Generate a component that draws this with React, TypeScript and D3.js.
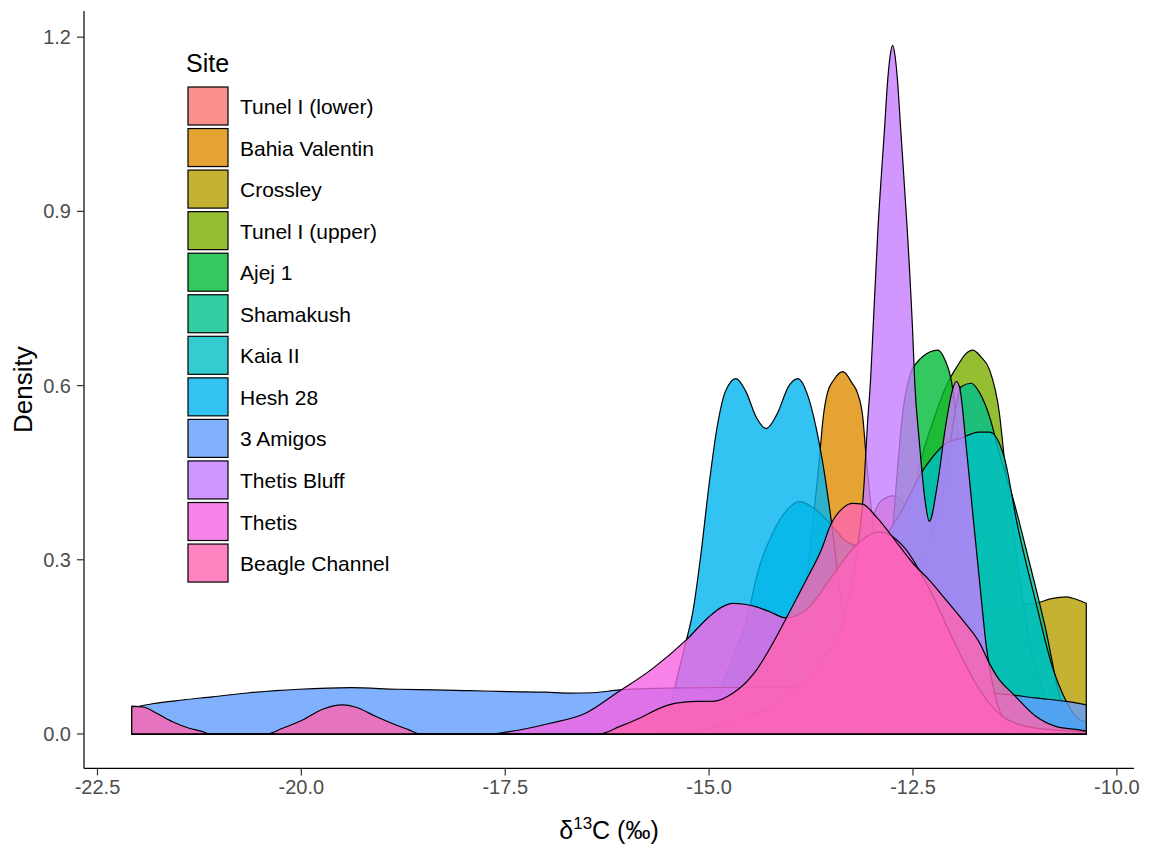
import React from "react";
import * as d3 from "d3";

type Pt = [number, number];

// sites in drawing order (first is drawn underneath)
const sites = [
  "Tunel I (lower)", "Bahia Valentin", "Crossley", "Tunel I (upper)", "Ajej 1", "Shamakush",
  "Kaia II", "Hesh 28", "3 Amigos", "Thetis Bluff", "Thetis", "Beagle Channel",
];
const siteColors = [
  "#F8766D", "#DE8C00", "#B79F00", "#7CAE00", "#00BA38", "#00C08B",
  "#00BFC4", "#00B4F0", "#619CFF", "#C77CFF", "#F564E3", "#FF64B0",
];

const X_MIN = -22.08;
const X_MAX = -10.375;

// density curves: [d13C, density]
const tunelLower: Pt[] = [[-22.08, 0], [-14.0, 0], [-13.7, 0.05], [-13.4, 0.17], [-13.1, 0.33], [-12.9, 0.4], [-12.74, 0.41], [-12.55, 0.38], [-12.4, 0.3], [-12.2, 0.2], [-12.0, 0.13], [-11.8, 0.085], [-11.56, 0.05], [-11.2, 0.015], [-10.8, 0.003], [-10.375, 0]];
const bahiaValentin: Pt[] = [[-22.08, 0], [-14.5, 0], [-14.2, 0.02], [-13.97, 0.1], [-13.82, 0.25], [-13.7, 0.4], [-13.65, 0.47], [-13.6, 0.546], [-13.55, 0.587], [-13.47, 0.61], [-13.36, 0.624], [-13.25, 0.605], [-13.18, 0.587], [-13.116, 0.546], [-13.07, 0.47], [-13.02, 0.4], [-12.9, 0.25], [-12.75, 0.1], [-12.5, 0.02], [-12.2, 0], [-10.375, 0]];
const crossley: Pt[] = [[-22.08, 0], [-12.6, 0], [-12.2, 0.08], [-11.8, 0.2], [-11.4, 0.22], [-11.0, 0.225], [-10.8, 0.233], [-10.62, 0.236], [-10.5, 0.232], [-10.375, 0.225]];
const tunelUpper: Pt[] = [[-22.08, 0], [-14.0, 0], [-13.5, 0.02], [-13.1, 0.08], [-12.8, 0.2], [-12.6, 0.35], [-12.38, 0.483], [-12.2, 0.56], [-12.09, 0.6], [-11.95, 0.635], [-11.85, 0.655], [-11.767, 0.661], [-11.67, 0.65], [-11.56, 0.627], [-11.44, 0.552], [-11.38, 0.475], [-11.25, 0.33], [-11.1, 0.18], [-10.9, 0.07], [-10.6, 0.015], [-10.375, 0.005]];
const ajej1: Pt[] = [[-22.08, 0], [-13.1, 0], [-12.9, 0.1], [-12.75, 0.35], [-12.62, 0.56], [-12.52, 0.625], [-12.45, 0.64], [-12.38, 0.65], [-12.196, 0.661], [-12.11, 0.645], [-12.03, 0.609], [-11.95, 0.52], [-11.85, 0.35], [-11.7, 0.13], [-11.5, 0.03], [-11.25, 0], [-10.375, 0]];
const shamakush: Pt[] = [[-22.08, 0], [-13.5, 0], [-13.2, 0.05], [-12.9, 0.12], [-12.6, 0.22], [-12.3, 0.33], [-12.1, 0.44], [-12.0, 0.54], [-11.91, 0.598], [-11.786, 0.604], [-11.68, 0.587], [-11.56, 0.546], [-11.44, 0.483], [-11.28, 0.409], [-11.07, 0.294], [-10.87, 0.179], [-10.7, 0.064], [-10.5, 0.015], [-10.375, 0.008]];
const kaiaII: Pt[] = [[-22.08, 0], [-15.2, 0], [-15.0, 0.03], [-14.8, 0.1], [-14.5, 0.219], [-14.42, 0.27], [-14.22, 0.346], [-14.05, 0.385], [-13.89, 0.4], [-13.69, 0.386], [-13.52, 0.363], [-13.3, 0.33], [-13.0, 0.32], [-12.7, 0.37], [-12.35, 0.46], [-12.1, 0.5], [-11.9, 0.51], [-11.7, 0.52], [-11.56, 0.52], [-11.378, 0.475], [-11.22, 0.36], [-10.99, 0.225], [-10.8, 0.12], [-10.62, 0.056], [-10.5, 0.03], [-10.375, 0.02]];
const hesh28: Pt[] = [[-22.08, 0], [-15.6, 0], [-15.5, 0.03], [-15.42, 0.08], [-15.3, 0.15], [-15.2, 0.21], [-15.1, 0.31], [-15.0, 0.43], [-14.9, 0.53], [-14.8, 0.59], [-14.67, 0.612], [-14.55, 0.59], [-14.42, 0.545], [-14.3, 0.526], [-14.17, 0.55], [-14.02, 0.6], [-13.91, 0.612], [-13.8, 0.587], [-13.69, 0.529], [-13.61, 0.47], [-13.52, 0.386], [-13.4, 0.25], [-13.25, 0.1], [-13.1, 0.03], [-12.9, 0], [-10.375, 0]];
const threeAmigos: Pt[] = [[-22.08, 0.045], [-21.825, 0.052], [-21.457, 0.0585], [-21.09, 0.064], [-20.64, 0.071], [-20.03, 0.077], [-19.39, 0.0797], [-18.82, 0.077], [-18.37, 0.0758], [-17.94, 0.0745], [-17.45, 0.073], [-17.0, 0.072], [-16.71, 0.0705], [-16.43, 0.071], [-16.1, 0.0758], [-15.5, 0.079], [-14.8, 0.08], [-14.0, 0.08], [-13.3, 0.078], [-12.6, 0.075], [-12.0, 0.072], [-11.5, 0.07], [-11.28, 0.067], [-11.0, 0.062], [-10.62, 0.056], [-10.375, 0.05]];
const thetisBluff: Pt[] = [[-22.08, 0], [-15.4, 0], [-15.0, 0.01], [-14.5, 0.03], [-14.0, 0.07], [-13.6, 0.13], [-13.35, 0.2], [-13.2, 0.3], [-13.1, 0.43], [-13.06, 0.53], [-13.02, 0.61], [-12.99, 0.696], [-12.93, 0.868], [-12.85, 1.04], [-12.81, 1.126], [-12.78, 1.168], [-12.75, 1.186], [-12.72, 1.168], [-12.69, 1.126], [-12.65, 1.04], [-12.57, 0.868], [-12.505, 0.696], [-12.48, 0.61], [-12.42, 0.5], [-12.35, 0.4], [-12.3, 0.366], [-12.2, 0.43], [-12.1, 0.53], [-12.02, 0.59], [-11.97, 0.607], [-11.93, 0.598], [-11.847, 0.495], [-11.767, 0.38], [-11.685, 0.265], [-11.6, 0.15], [-11.5, 0.07], [-11.35, 0.02], [-11.1, 0.003], [-10.8, 0], [-10.375, 0]];
const thetis: Pt[] = [[-22.08, 0], [-17.69, 0], [-17.45, 0.004], [-16.96, 0.018], [-16.51, 0.036], [-16.14, 0.07], [-15.69, 0.113], [-15.28, 0.162], [-15.0, 0.202], [-14.85, 0.218], [-14.71, 0.225], [-14.55, 0.223], [-14.42, 0.219], [-14.25, 0.21], [-14.06, 0.2], [-13.8, 0.215], [-13.5, 0.27], [-13.2, 0.325], [-12.91, 0.348], [-12.6, 0.32], [-12.3, 0.25], [-12.0, 0.16], [-11.7, 0.08], [-11.4, 0.03], [-11.0, 0.01], [-10.375, 0.004]];
const beagleChannel: Pt[] = [[-22.08, 0.048], [-21.925, 0.046], [-21.78, 0.036], [-21.58, 0.021], [-21.375, 0.0098], [-21.21, 0.004], [-21.13, 0], [-20.43, 0], [-20.23, 0.0098], [-19.985, 0.024], [-19.74, 0.0425], [-19.495, 0.05], [-19.33, 0.046], [-19.085, 0.03], [-18.84, 0.0155], [-18.68, 0.007], [-18.55, 0], [-16.35, 0], [-16.1, 0.0126], [-15.855, 0.027], [-15.61, 0.044], [-15.405, 0.053], [-15.15, 0.056], [-14.956, 0.056], [-14.71, 0.07], [-14.42, 0.11], [-14.22, 0.156], [-14.056, 0.199], [-13.81, 0.265], [-13.61, 0.322], [-13.52, 0.357], [-13.36, 0.389], [-13.24, 0.397], [-13.12, 0.396], [-12.95, 0.374], [-12.66, 0.3225], [-12.5, 0.294], [-12.3, 0.265], [-12.09, 0.23], [-11.89, 0.196], [-11.68, 0.156], [-11.565, 0.122], [-11.44, 0.093], [-11.28, 0.07], [-10.99, 0.03], [-10.74, 0.0126], [-10.46, 0.007], [-10.375, 0.005]];

const curves: Pt[][] = [tunelLower, bahiaValentin, crossley, tunelUpper, ajej1, shamakush, kaiaII, hesh28, threeAmigos, thetisBluff, thetis, beagleChannel];

const xTicks = [-22.5, -20, -17.5, -15, -12.5, -10];
const yTicks = [0, 0.3, 0.6, 0.9, 1.2];

const FONT = "'Liberation Sans', Arial, sans-serif";

export default function App() {
  const W = 1153;
  const H = 848;

  // ggplot style 5% expansion on both axes
  const xPad = (X_MAX - X_MIN) * 0.05;
  const yMax = d3.max(curves, c => d3.max(c, p => p[1])) as number;

  const x = d3.scaleLinear().domain([X_MIN - xPad, X_MAX + xPad]).range([84, 1134]);
  const y = d3.scaleLinear().domain([-yMax * 0.05, yMax * 1.05]).range([768.4, 10.9]);

  const area = d3.area<Pt>()
    .x(d => x(d[0]))
    .y0(y(0))
    .y1(d => y(d[1]))
    .curve(d3.curveMonotoneX);

  const [px0, px1] = x.range();
  const [py0, py1] = y.range();

  return (
    <svg width={W} height={H} style={{ position: "absolute", left: 0, top: 0, background: "#fff" }} fontFamily={FONT}>
      {curves.map((c, i) => (
        <path key={sites[i]} d={area(c) + "Z"} fill={siteColors[i]} fillOpacity={0.8}
          stroke="#000" strokeWidth={1.2} strokeLinejoin="round" />
      ))}

      {/* axes */}
      <line x1={px0} x2={px1} y1={py0} y2={py0} stroke="#000" strokeWidth={1.2} />
      <line x1={px0} x2={px0} y1={py0} y2={py1} stroke="#000" strokeWidth={1.2} />
      {xTicks.map(t => (
        <g key={"x" + t}>
          <line x1={x(t)} x2={x(t)} y1={py0} y2={py0 + 7} stroke="#333" strokeWidth={1.2} />
          <text x={x(t)} y={py0 + 26} textAnchor="middle" fontSize={20} fill="#4D4D4D">{t.toFixed(1)}</text>
        </g>
      ))}
      {yTicks.map(t => (
        <g key={"y" + t}>
          <line x1={px0 - 7} x2={px0} y1={y(t)} y2={y(t)} stroke="#333" strokeWidth={1.2} />
          <text x={px0 - 13} y={y(t) + 7} textAnchor="end" fontSize={20} fill="#4D4D4D">{t.toFixed(1)}</text>
        </g>
      ))}

      <text x={(px0 + px1) / 2} y={839} textAnchor="middle" fontSize={25} fill="#000">
        δ<tspan fontSize={17} dy={-10}>13</tspan><tspan dy={10}>C (‰)</tspan>
      </text>
      <text transform={`translate(32, ${(py0 + py1) / 2}) rotate(-90)`} textAnchor="middle" fontSize={26} fill="#000">Density</text>

      {/* legend */}
      <text x={186} y={72} fontSize={25} fill="#000">Site</text>
      {sites.map((s, i) => (
        <g key={"leg" + s} transform={`translate(188, ${87 + i * 41.55})`}>
          <rect x={0} y={0} width={40} height={38} fill={siteColors[i]} fillOpacity={0.8} stroke="#000" strokeWidth={1.2} />
          <text x={52} y={27} fontSize={21} fill="#000">{s}</text>
        </g>
      ))}
    </svg>
  );
}
